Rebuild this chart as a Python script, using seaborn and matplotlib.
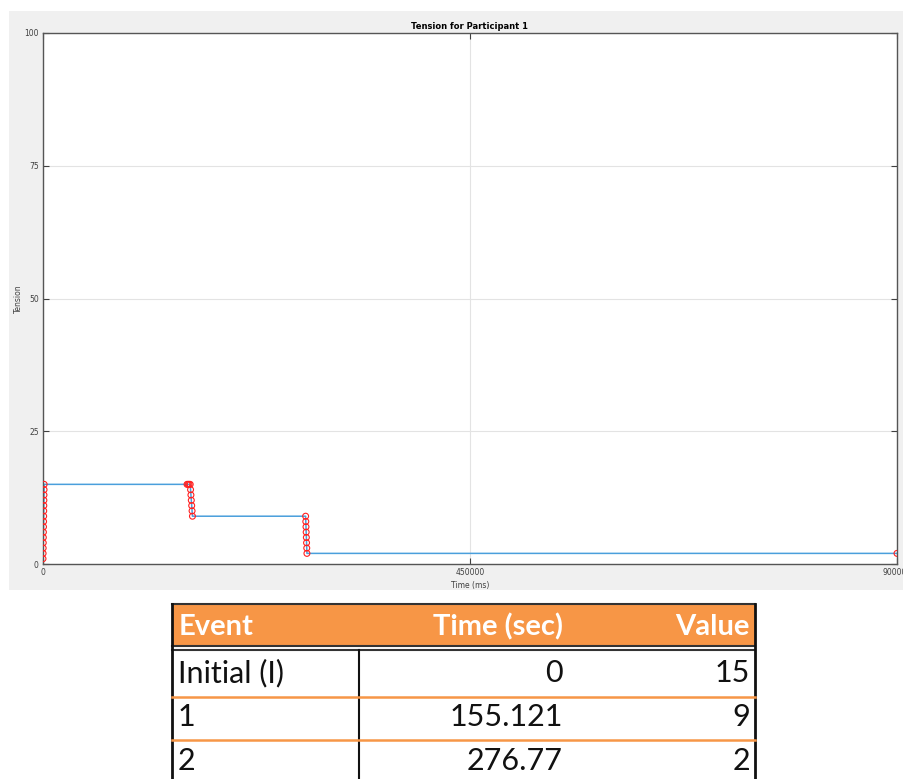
# plot.py
# Tensão do participante 1 (estilo MATLAB) + tabela de eventos

import pandas as pd
import matplotlib
matplotlib.use('Agg')
import matplotlib.pyplot as plt
import seaborn as sns
from matplotlib.patches import Rectangle

# ---- dados do gráfico ----
tempo_ms = [0, 95, 180, 260, 350, 430, 520, 610, 690, 770, 860, 940, 1030, 1110, 1200,
            151800, 152900, 153900, 155121,
            155500, 155900, 156300, 156700, 157100, 157500,
            276770, 276950, 277150, 277350, 277550, 277750, 277950, 278150,
            900000]
tensao = [1, 2, 3, 4, 5, 6, 7, 8, 9, 10, 11, 12, 13, 14, 15,
          15, 15, 15, 15,
          14, 13, 12, 11, 10, 9,
          9, 8, 7, 6, 5, 4, 3, 2,
          2]

x_ticks = [0, 450000, 900000]
y_ticks = [0, 25, 50, 75, 100]

# ---- dados da tabela ----
cabecalho = ['Event', 'Time (sec)', 'Value']
eventos = ['Initial (I)', '1', '2']
tempos_seg = ['0', '155.121', '276.77']
valores = [15, 9, 2]

df = pd.DataFrame({'Time (ms)': tempo_ms, 'Tension': tensao})

W, H = 904, 779
fig = plt.figure(figsize=(W / 100, H / 100), dpi=100)
fig.patch.set_facecolor('white')

# eixo de fundo em pixels (fundo cinza e tabela)
bg = fig.add_axes([0, 0, 1, 1], zorder=0)
bg.set_xlim(0, W)
bg.set_ylim(H, 0)
bg.axis('off')
bg.add_patch(Rectangle((9, 11), W - 9, 590 - 11, facecolor='#f0f0f0', edgecolor='none'))

# ---- gráfico ----
ax = fig.add_axes([43 / W, (H - 564) / H, (897 - 43) / W, (564 - 33) / H], zorder=1)
ax.set_facecolor('white')

sns.lineplot(data=df, x='Time (ms)', y='Tension', estimator=None, sort=False,
             color='#4a9fdc', linewidth=1.1, ax=ax)
sns.scatterplot(data=df, x='Time (ms)', y='Tension', marker='o', s=18,
                facecolors='none', edgecolor='#ff2020', linewidth=0.8, ax=ax, zorder=3)

ax.set_xlim(0, 900000)
ax.set_ylim(0, 100)
ax.set_xticks(x_ticks)
ax.set_yticks(y_ticks)
ax.set_xticklabels([str(v) for v in x_ticks])
ax.set_yticklabels([str(v) for v in y_ticks])
ax.grid(True, color='#e3e3e3', linewidth=0.8)
ax.set_axisbelow(True)
ax.tick_params(direction='in', length=4, width=0.8, colors='#404040',
               labelsize=5.5, top=True, right=True, pad=3)
for s in ax.spines.values():
    s.set_color('#555555')
    s.set_linewidth(1.0)

ax.set_title('Tension for Participant 1', fontsize=6, fontweight='bold', pad=3)
ax.set_xlabel('Time (ms)', fontsize=5.5, color='#404040', labelpad=3)
ax.set_ylabel('Tension', fontsize=5.5, color='#404040', labelpad=1)

# ---- tabela ----
laranja = '#f79646'
esq, div, dir_ = 172, 359, 755
topo, fim_cab = 604, 646
linhas_y = [652, 697, 740, 783]

bg.add_patch(Rectangle((esq, topo), dir_ - esq, fim_cab - topo,
                       facecolor=laranja, edgecolor='none'))
bg.plot([esq, dir_], [topo, topo], color='#333333', lw=1.5)
bg.plot([esq, dir_], [fim_cab, fim_cab], color='#333333', lw=1.5)
bg.plot([esq, dir_], [650, 650], color='#333333', lw=1.5)
bg.plot([esq, esq], [topo, H], color='#111111', lw=2)
bg.plot([dir_, dir_], [topo, H], color='#111111', lw=2)
bg.plot([div, div], [650, H], color='#111111', lw=1.5)
for y in linhas_y[1:3]:
    bg.plot([esq, dir_], [y, y], color=laranja, lw=1.8)

fonte = 'Lato'
y_cab = 627
bg.text(179, y_cab, cabecalho[0], ha='left', va='center', fontsize=21,
        fontweight='bold', color='white', family=fonte)
bg.text(563, y_cab, cabecalho[1], ha='right', va='center', fontsize=21,
        fontweight='bold', color='white', family=fonte)
bg.text(750, y_cab, cabecalho[2], ha='right', va='center', fontsize=21,
        fontweight='bold', color='white', family=fonte)

for i, (ev, t, v) in enumerate(zip(eventos, tempos_seg, valores)):
    yc = (linhas_y[i] + linhas_y[i + 1]) / 2 - 1
    bg.text(178, yc, ev, ha='left', va='center', fontsize=22, color='#111111', family=fonte)
    bg.text(563, yc, t, ha='right', va='center', fontsize=22, color='#111111', family=fonte)
    bg.text(750, yc, str(v), ha='right', va='center', fontsize=22, color='#111111', family=fonte)

fig.savefig('out.png', dpi=100)
